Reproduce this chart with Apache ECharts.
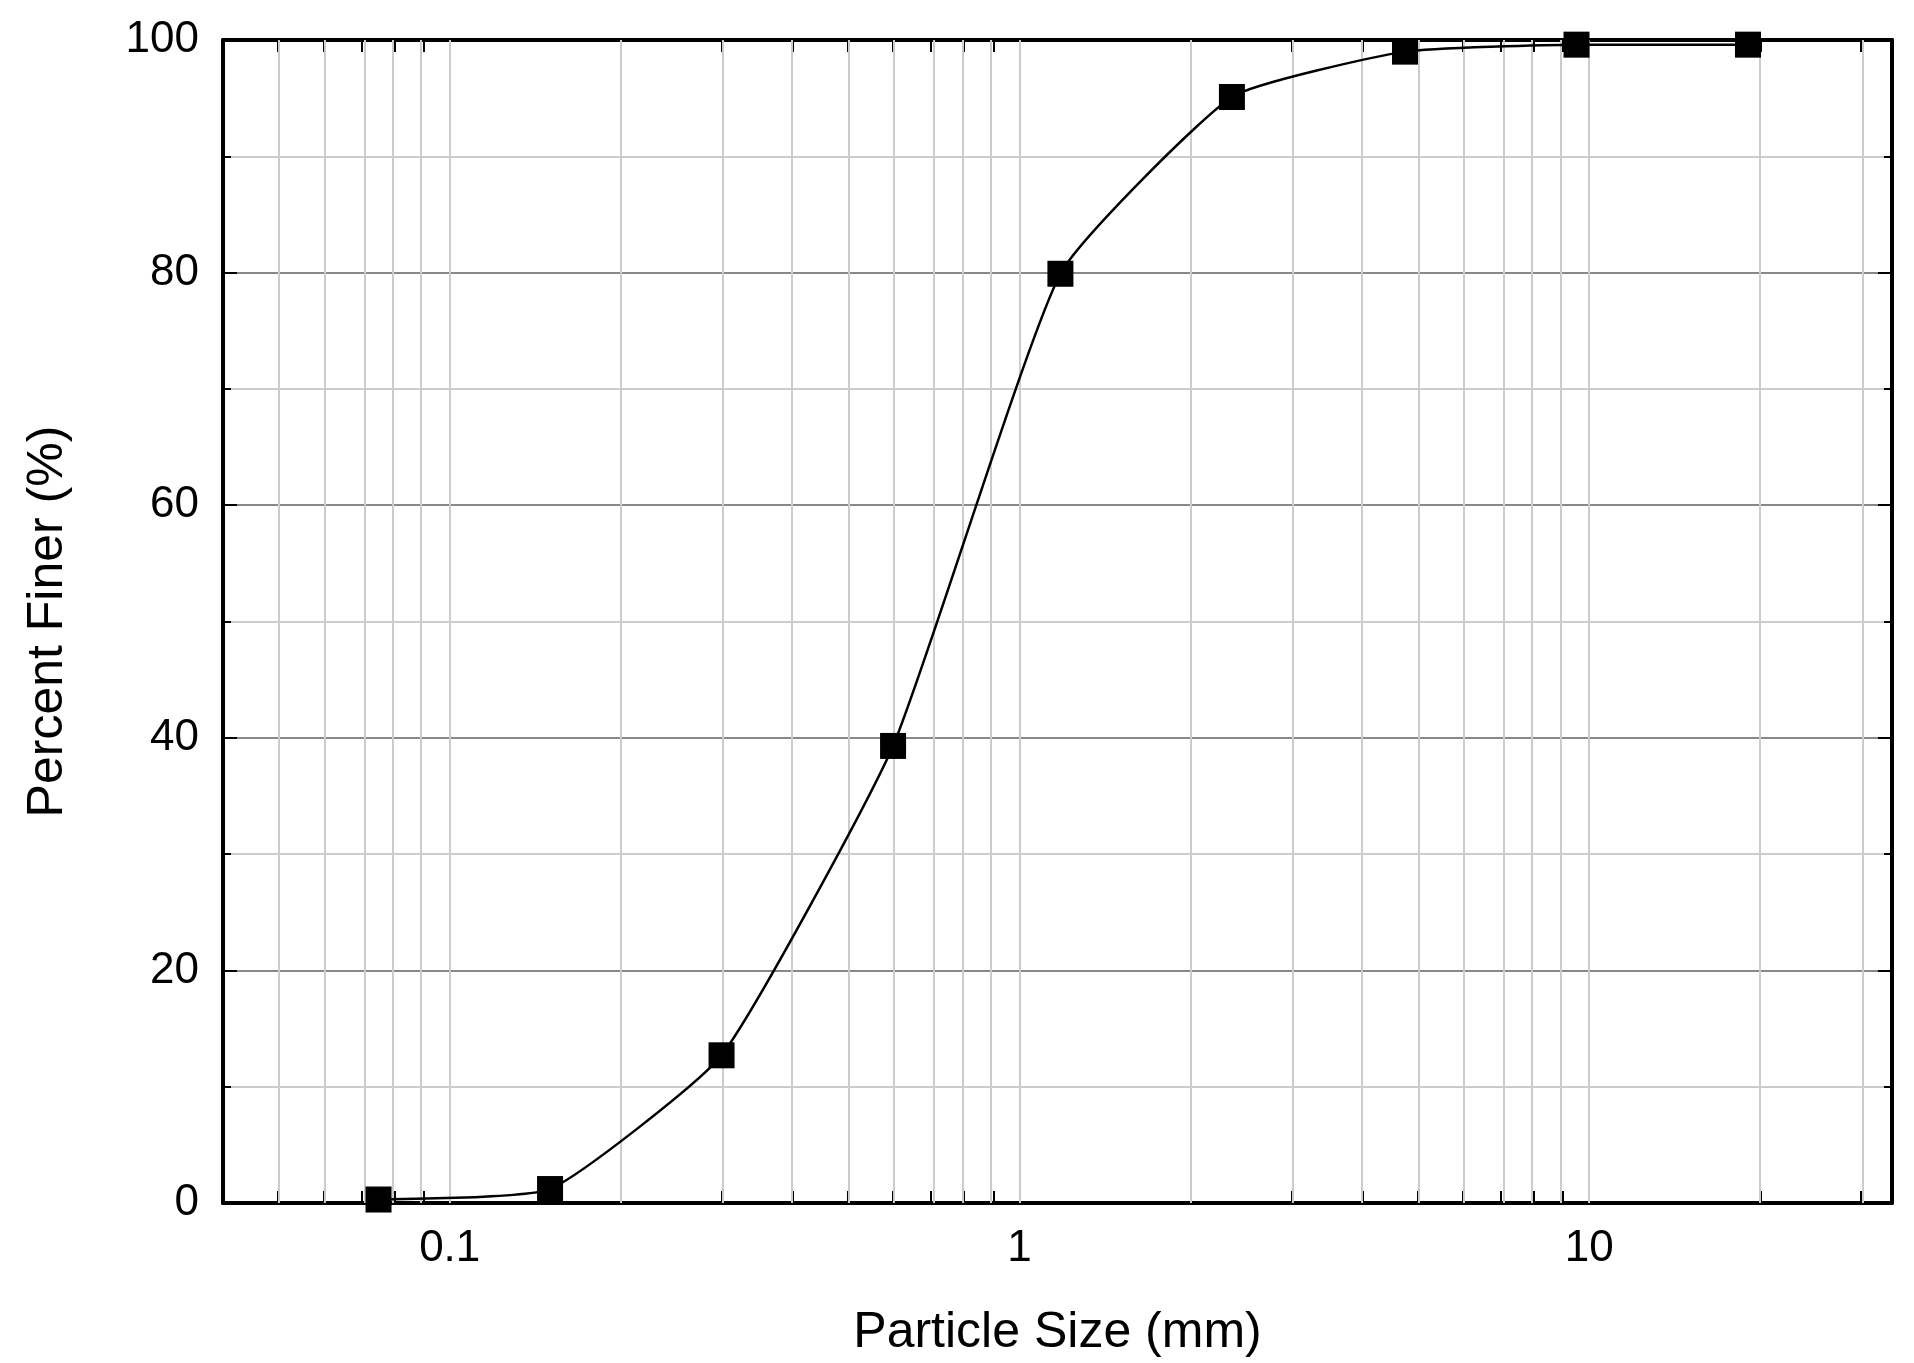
<!DOCTYPE html><html><head><meta charset="utf-8"><script src="https://cdn.jsdelivr.net/npm/echarts@6/dist/echarts.min.js"></script>
<style>html,body{margin:0;background:#fff}#c{width:1914px;height:1363px}</style></head><body><div id="c"></div><script>
const sizes=[0.075,0.15,0.3,0.6,1.18,2.36,4.75,9.5,19];
const finer=[0.3,1.2,12.7,39.3,79.9,95.1,99.0,99.6,99.6];
const xGrid=[0.05,0.06,0.07,0.08,0.09,0.1,0.2,0.3,0.4,0.5,0.6,0.7,0.8,0.9,1,2,3,4,5,6,7,8,9,10,20,30];
const xLabels=[0.1,1,10];
const L=Math.log10;
const font='Liberation Sans';
const chart=echarts.init(document.getElementById('c'));
const xTick={inside:true,length:12,lineStyle:{color:'#000',width:2},customValues:xGrid.map(L)};
chart.setOption({
 animation:false,
 grid:{left:223,right:22,top:40,bottom:158},
 xAxis:[{type:'value',min:L(0.04),max:L(34),
   name:'Particle Size (mm)',nameLocation:'middle',nameGap:105,
   nameTextStyle:{fontFamily:font,fontSize:50,color:'#000'},
   axisLine:{onZero:false,lineStyle:{color:'#000',width:4}},
   axisTick:xTick,
   axisLabel:{customValues:xLabels.map(L),formatter:v=>String(+Math.pow(10,v).toPrecision(3)),fontFamily:font,fontSize:44,color:'#000',margin:24},
   splitLine:{show:false}},
  {type:'value',position:'top',min:L(0.04),max:L(34),axisLine:{onZero:false,lineStyle:{color:'#000',width:4}},
   axisTick:xTick,axisLabel:{show:false},splitLine:{show:false}}],
 yAxis:[{type:'value',min:0,max:100,interval:20,
   name:'Percent Finer (%)',nameLocation:'middle',nameGap:150,
   nameTextStyle:{fontFamily:font,fontSize:50,color:'#000'},
   axisLine:{show:true,onZero:false,lineStyle:{color:'#000',width:4}},
   axisTick:{inside:true,length:14,lineStyle:{color:'#000',width:2}},
   minorTick:{show:true,splitNumber:2,length:8,lineStyle:{color:'#000',width:2}},
   axisLabel:{fontFamily:font,fontSize:44,color:'#000',margin:24},
   splitLine:{show:true,lineStyle:{color:'#888',width:2}},
   minorSplitLine:{show:true,lineStyle:{color:'#ccc',width:2}}},
  {type:'value',position:'right',min:0,max:100,interval:20,
   axisLine:{show:true,onZero:false,lineStyle:{color:'#000',width:4}},
   axisTick:{show:true,inside:true,length:14,lineStyle:{color:'#000',width:2}},
   minorTick:{show:true,splitNumber:2,length:8,lineStyle:{color:'#000',width:2}},
   axisLabel:{show:false},splitLine:{show:false}}],
 series:[{type:'line',smooth:0.15,data:sizes.map((s,i)=>[L(s),finer[i]]),
   symbol:'rect',symbolSize:26,itemStyle:{color:'#000'},lineStyle:{color:'#000',width:2.5},z:5,
   markLine:{silent:true,symbol:'none',label:{show:false},lineStyle:{color:'#ccc',width:2,type:'solid'},
     data:xGrid.map(v=>({xAxis:L(v)}))}}]
});
</script></body></html>
